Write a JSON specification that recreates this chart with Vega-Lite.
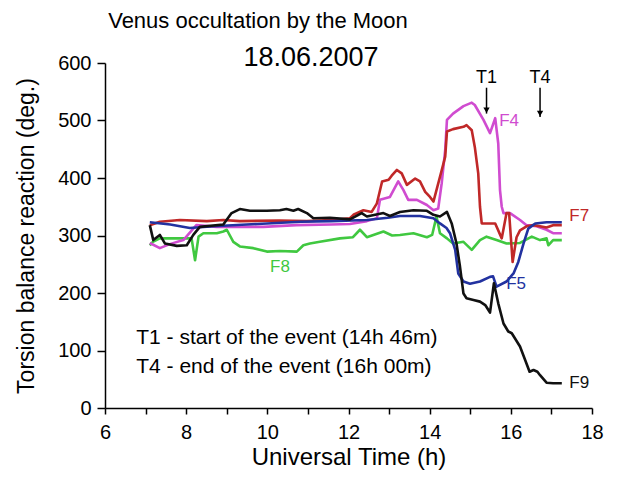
{
  "$schema": "https://vega.github.io/schema/vega-lite/v6.json",
  "width": 487,
  "height": 345,
  "autosize": {"type": "none"},
  "padding": {"left": 105, "top": 63, "right": 51, "bottom": 73},
  "background": "white",
  "config": {
    "font": "Liberation Sans",
    "view": {"stroke": null},
    "axis": {"grid": false, "domainColor": "#000", "domainWidth": 1.5, "tickColor": "#000", "tickWidth": 1.5, "labelColor": "#000", "titleColor": "#000", "labelFontSize": 20, "titleFontSize": 22, "titleFontWeight": "normal"}
  },
  "datasets": {
    "series": [
      {"s":"F8","t":7.104,"v":283},{"s":"F8","t":7.179,"v":289},{"s":"F8","t":7.351,"v":295},{"s":"F8","t":8.015,"v":295},{"s":"F8","t":8.133,"v":295},{"s":"F8","t":8.219,"v":257},{"s":"F8","t":8.305,"v":298},{"s":"F8","t":8.423,"v":304},{"s":"F8","t":8.755,"v":304},{"s":"F8","t":8.916,"v":307},{"s":"F8","t":9.001,"v":310},{"s":"F8","t":9.162,"v":289},{"s":"F8","t":9.323,"v":281},{"s":"F8","t":9.655,"v":278},{"s":"F8","t":9.988,"v":272},{"s":"F8","t":10.309,"v":273},{"s":"F8","t":10.727,"v":272},{"s":"F8","t":10.888,"v":283},{"s":"F8","t":11.049,"v":286},{"s":"F8","t":11.295,"v":289},{"s":"F8","t":11.789,"v":295},{"s":"F8","t":12.110,"v":297},{"s":"F8","t":12.282,"v":310},{"s":"F8","t":12.453,"v":297},{"s":"F8","t":12.861,"v":307},{"s":"F8","t":13.075,"v":300},{"s":"F8","t":13.268,"v":301},{"s":"F8","t":13.600,"v":304},{"s":"F8","t":13.932,"v":297},{"s":"F8","t":14.061,"v":301},{"s":"F8","t":14.168,"v":333},{"s":"F8","t":14.254,"v":304},{"s":"F8","t":14.426,"v":295},{"s":"F8","t":14.576,"v":286},{"s":"F8","t":14.833,"v":289},{"s":"F8","t":15.037,"v":275},{"s":"F8","t":15.240,"v":292},{"s":"F8","t":15.401,"v":298},{"s":"F8","t":15.648,"v":292},{"s":"F8","t":15.894,"v":286},{"s":"F8","t":16.226,"v":287},{"s":"F8","t":16.516,"v":298},{"s":"F8","t":16.720,"v":292},{"s":"F8","t":16.880,"v":295},{"s":"F8","t":16.923,"v":283},{"s":"F8","t":17.041,"v":292},{"s":"F8","t":17.256,"v":292},

      {"s":"F4","t":7.104,"v":287},{"s":"F4","t":7.351,"v":278},{"s":"F4","t":7.597,"v":285},{"s":"F4","t":7.930,"v":292},{"s":"F4","t":8.251,"v":318},{"s":"F4","t":8.755,"v":315},{"s":"F4","t":9.902,"v":315},{"s":"F4","t":10.717,"v":318},{"s":"F4","t":11.574,"v":319},{"s":"F4","t":12.035,"v":320},{"s":"F4","t":12.453,"v":325},{"s":"F4","t":12.700,"v":330},{"s":"F4","t":12.775,"v":362},{"s":"F4","t":13.021,"v":367},{"s":"F4","t":13.225,"v":394},{"s":"F4","t":13.354,"v":379},{"s":"F4","t":13.472,"v":362},{"s":"F4","t":13.686,"v":362},{"s":"F4","t":13.932,"v":353},{"s":"F4","t":14.093,"v":344},{"s":"F4","t":14.211,"v":347},{"s":"F4","t":14.297,"v":391},{"s":"F4","t":14.383,"v":449},{"s":"F4","t":14.426,"v":501},{"s":"F4","t":14.576,"v":512},{"s":"F4","t":14.833,"v":525},{"s":"F4","t":15.037,"v":531},{"s":"F4","t":15.112,"v":527},{"s":"F4","t":15.326,"v":501},{"s":"F4","t":15.487,"v":478},{"s":"F4","t":15.615,"v":504},{"s":"F4","t":15.690,"v":460},{"s":"F4","t":15.733,"v":379},{"s":"F4","t":15.776,"v":350},{"s":"F4","t":15.819,"v":339},{"s":"F4","t":15.980,"v":339},{"s":"F4","t":16.226,"v":327},{"s":"F4","t":16.387,"v":318},{"s":"F4","t":16.634,"v":316},{"s":"F4","t":16.880,"v":310},{"s":"F4","t":17.041,"v":304},{"s":"F4","t":17.256,"v":304},

      {"s":"F7","t":7.104,"v":318},{"s":"F7","t":7.351,"v":324},{"s":"F7","t":7.844,"v":327},{"s":"F7","t":8.508,"v":325},{"s":"F7","t":8.916,"v":327},{"s":"F7","t":9.323,"v":325},{"s":"F7","t":10.288,"v":326},{"s":"F7","t":10.974,"v":325},{"s":"F7","t":11.574,"v":327},{"s":"F7","t":12.035,"v":330},{"s":"F7","t":12.121,"v":336},{"s":"F7","t":12.367,"v":344},{"s":"F7","t":12.571,"v":341},{"s":"F7","t":12.700,"v":356},{"s":"F7","t":12.828,"v":394},{"s":"F7","t":12.989,"v":397},{"s":"F7","t":13.064,"v":404},{"s":"F7","t":13.193,"v":414},{"s":"F7","t":13.311,"v":408},{"s":"F7","t":13.439,"v":388},{"s":"F7","t":13.643,"v":399},{"s":"F7","t":13.761,"v":394},{"s":"F7","t":13.890,"v":376},{"s":"F7","t":14.008,"v":367},{"s":"F7","t":14.093,"v":359},{"s":"F7","t":14.254,"v":402},{"s":"F7","t":14.383,"v":437},{"s":"F7","t":14.426,"v":481},{"s":"F7","t":14.576,"v":485},{"s":"F7","t":14.833,"v":489},{"s":"F7","t":14.908,"v":492},{"s":"F7","t":15.037,"v":483},{"s":"F7","t":15.112,"v":454},{"s":"F7","t":15.197,"v":408},{"s":"F7","t":15.240,"v":350},{"s":"F7","t":15.283,"v":321},{"s":"F7","t":15.615,"v":321},{"s":"F7","t":15.776,"v":295},{"s":"F7","t":15.894,"v":339},{"s":"F7","t":15.958,"v":339},{"s":"F7","t":16.044,"v":254},{"s":"F7","t":16.141,"v":297},{"s":"F7","t":16.226,"v":309},{"s":"F7","t":16.387,"v":316},{"s":"F7","t":16.559,"v":318},{"s":"F7","t":16.880,"v":314},{"s":"F7","t":17.041,"v":318},{"s":"F7","t":17.256,"v":318},

      {"s":"F5","t":7.104,"v":323},{"s":"F5","t":7.608,"v":319},{"s":"F5","t":8.090,"v":313},{"s":"F5","t":8.680,"v":316},{"s":"F5","t":9.752,"v":320},{"s":"F5","t":10.824,"v":324},{"s":"F5","t":11.574,"v":325},{"s":"F5","t":12.453,"v":327},{"s":"F5","t":12.968,"v":331},{"s":"F5","t":13.268,"v":334},{"s":"F5","t":13.761,"v":334},{"s":"F5","t":14.093,"v":330},{"s":"F5","t":14.254,"v":321},{"s":"F5","t":14.415,"v":313},{"s":"F5","t":14.501,"v":304},{"s":"F5","t":14.629,"v":275},{"s":"F5","t":14.704,"v":234},{"s":"F5","t":14.833,"v":220},{"s":"F5","t":14.994,"v":216},{"s":"F5","t":15.240,"v":220},{"s":"F5","t":15.487,"v":228},{"s":"F5","t":15.562,"v":229},{"s":"F5","t":15.648,"v":211},{"s":"F5","t":15.894,"v":220},{"s":"F5","t":16.066,"v":234},{"s":"F5","t":16.184,"v":254},{"s":"F5","t":16.312,"v":286},{"s":"F5","t":16.430,"v":312},{"s":"F5","t":16.602,"v":321},{"s":"F5","t":16.880,"v":323},{"s":"F5","t":17.256,"v":323},

      {"s":"F9","t":7.104,"v":318},{"s":"F9","t":7.190,"v":292},{"s":"F9","t":7.351,"v":301},{"s":"F9","t":7.479,"v":286},{"s":"F9","t":7.769,"v":282},{"s":"F9","t":8.015,"v":283},{"s":"F9","t":8.176,"v":301},{"s":"F9","t":8.337,"v":315},{"s":"F9","t":8.916,"v":319},{"s":"F9","t":9.119,"v":339},{"s":"F9","t":9.323,"v":346},{"s":"F9","t":9.570,"v":343},{"s":"F9","t":9.988,"v":343},{"s":"F9","t":10.309,"v":344},{"s":"F9","t":10.470,"v":346},{"s":"F9","t":10.642,"v":343},{"s":"F9","t":10.759,"v":346},{"s":"F9","t":10.974,"v":339},{"s":"F9","t":11.135,"v":330},{"s":"F9","t":11.542,"v":331},{"s":"F9","t":12.035,"v":328},{"s":"F9","t":12.325,"v":339},{"s":"F9","t":12.453,"v":333},{"s":"F9","t":12.861,"v":339},{"s":"F9","t":13.021,"v":334},{"s":"F9","t":13.268,"v":341},{"s":"F9","t":13.600,"v":344},{"s":"F9","t":13.932,"v":343},{"s":"F9","t":14.093,"v":336},{"s":"F9","t":14.254,"v":333},{"s":"F9","t":14.426,"v":341},{"s":"F9","t":14.543,"v":321},{"s":"F9","t":14.661,"v":286},{"s":"F9","t":14.747,"v":246},{"s":"F9","t":14.833,"v":199},{"s":"F9","t":14.908,"v":191},{"s":"F9","t":15.079,"v":188},{"s":"F9","t":15.240,"v":185},{"s":"F9","t":15.369,"v":179},{"s":"F9","t":15.487,"v":166},{"s":"F9","t":15.583,"v":217},{"s":"F9","t":15.690,"v":182},{"s":"F9","t":15.819,"v":147},{"s":"F9","t":15.937,"v":133},{"s":"F9","t":16.023,"v":130},{"s":"F9","t":16.226,"v":107},{"s":"F9","t":16.355,"v":83},{"s":"F9","t":16.462,"v":63},{"s":"F9","t":16.559,"v":66},{"s":"F9","t":16.655,"v":63},{"s":"F9","t":16.720,"v":57},{"s":"F9","t":16.880,"v":44},{"s":"F9","t":17.041,"v":43},{"s":"F9","t":17.256,"v":43}
    ],
    "seriesLabels": [
      {"s":"F4","t":15.958,"v":499},
      {"s":"F7","t":17.684,"v":334},
      {"s":"F5","t":16.130,"v":216},
      {"s":"F8","t":10.312,"v":245},
      {"s":"F9","t":17.684,"v":43}
    ],
    "titleLines": [
      {"text":"Venus occultation by the Moon","t":9.77,"v":673},
      {"text":"18.06.2007","t":11.076,"v":609}
    ],
    "events": [
      {"name":"T1","t":15.401,"top":557,"tip":512,"head":518,"lab":574},
      {"name":"T4","t":16.72,"top":557,"tip":506,"head":512,"lab":574}
    ],
    "notes": [
      {"text":"T1 - start of the event (14h 46m)","t":6.77,"v":122},
      {"text":"T4 - end of the event (16h 00m)","t":6.77,"v":71}
    ]
  },
  "layer": [
    {
      "data": {"name": "series"},
      "mark": {"type": "line", "strokeWidth": 2.6, "strokeJoin": "round"},
      "encoding": {
        "x": {"field": "t", "type": "quantitative", "scale": {"domain": [6, 18], "nice": false, "zero": false},
          "axis": {"title": "Universal Time (h)", "values": [6,7,8,9,10,11,12,13,14,15,16,17,18],
            "labelExpr": "datum.value % 2 === 0 ? datum.label : ''",
            "tickSize": 6, "labelPadding": 8, "titlePadding": 3, "titleFontSize": 24, "labelFlush": false}},
        "y": {"field": "v", "type": "quantitative", "scale": {"domain": [0, 600], "nice": false},
          "axis": {"title": "Torsion balance reaction (deg.)", "values": [0,25,50,75,100,125,150,175,200,225,250,275,300,325,350,375,400,425,450,475,500,525,550,575,600],
            "labelExpr": "datum.value % 50 === 0 ? datum.label : ''",
            "tickSize": {"condition": {"test": "datum.value % 50 === 0", "value": 8}, "value": 5},
            "labelPadding": 6, "titlePadding": 19, "titleFontSize": 23}},
        "color": {"field": "s", "type": "nominal", "legend": null,
          "scale": {"domain": ["F8","F4","F7","F5","F9"], "range": ["#40c840","#d04cd0","#c02828","#2232a0","#111111"]}},
        "order": {"field": "t", "type": "quantitative"}
      }
    },
    {
      "data": {"name": "seriesLabels"},
      "mark": {"type": "text", "fontSize": 17, "align": "center", "baseline": "middle"},
      "encoding": {
        "x": {"field": "t", "type": "quantitative"},
        "y": {"field": "v", "type": "quantitative"},
        "text": {"field": "s"},
        "color": {"field": "s", "type": "nominal", "legend": null}
      }
    },
    {
      "data": {"name": "titleLines"},
      "mark": {"type": "text", "align": "center", "baseline": "middle", "color": "#000"},
      "encoding": {
        "x": {"field": "t", "type": "quantitative"},
        "y": {"field": "v", "type": "quantitative"},
        "text": {"field": "text"},
        "size": {"field": "text", "type": "nominal", "legend": null,
          "scale": {"domain": ["Venus occultation by the Moon", "18.06.2007"], "range": [22, 27]}}
      }
    },
    {
      "data": {"name": "notes"},
      "mark": {"type": "text", "fontSize": 21, "align": "left", "baseline": "middle", "color": "#000"},
      "encoding": {
        "x": {"field": "t", "type": "quantitative"},
        "y": {"field": "v", "type": "quantitative"},
        "text": {"field": "text"}
      }
    },
    {
      "data": {"name": "events"},
      "mark": {"type": "rule", "color": "#000", "strokeWidth": 1.5},
      "encoding": {
        "x": {"field": "t", "type": "quantitative"},
        "y": {"field": "top", "type": "quantitative"},
        "y2": {"field": "tip"}
      }
    },
    {
      "data": {"name": "events"},
      "mark": {"type": "point", "shape": "triangle-down", "filled": true, "color": "#000", "size": 40, "opacity": 1},
      "encoding": {
        "x": {"field": "t", "type": "quantitative"},
        "y": {"field": "head", "type": "quantitative"}
      }
    },
    {
      "data": {"name": "events"},
      "mark": {"type": "text", "fontSize": 18, "align": "center", "baseline": "middle", "color": "#000"},
      "encoding": {
        "x": {"field": "t", "type": "quantitative"},
        "y": {"field": "lab", "type": "quantitative"},
        "text": {"field": "name"}
      }
    }
  ]
}
